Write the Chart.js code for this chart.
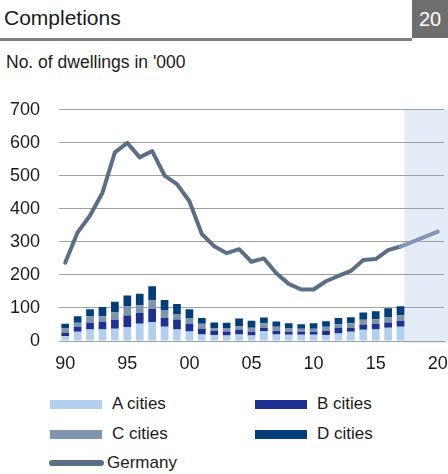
<!DOCTYPE html>
<html>
<head>
<meta charset="utf-8">
<script src="https://cdn.jsdelivr.net/npm/chart.js@4.4.1/dist/chart.umd.min.js"></script>
<style>
  body{margin:0;width:448px;height:474px;background:#fff;font-family:"Liberation Sans",Arial,sans-serif;color:#1a1a1a;position:relative;overflow:hidden}
  #title{position:absolute;left:4px;top:6px;font-size:21px}
  #rule{position:absolute;left:0;top:38px;width:412px;height:3px;background:#808080}
  #num{position:absolute;left:412px;top:0;width:36px;height:38px;background:#6e6e6e;color:#fff;font-size:20px;line-height:38px;text-align:center}
  #sub{position:absolute;left:6px;top:52px;font-size:17.5px}
  #wrap{position:absolute;left:0;top:80px;width:448px;height:300px}
  #legend{position:absolute;left:0;top:392px;width:448px;font-size:17px}
  .item{position:absolute;height:24px;line-height:24px;white-space:nowrap}
  .sw{position:absolute;left:0;top:8px;width:52px;height:9px}
  .ln{position:absolute;left:0;top:9px;width:55px;height:6px;border-radius:3px}
</style>
</head>
<body>
<div id="title">Completions</div>
<div id="rule"></div>
<div id="num">20</div>
<div id="sub">No. of dwellings in '000</div>
<div id="wrap"><canvas id="myChart" width="448" height="300"></canvas></div>
<div id="legend"></div>
<script>
const years=[];
for(let y=1990;y<=2020;y++) years.push(y);

const aCities=[15,28,35,35,37,42,52,57,43,35,29,20,18,17,20,17,30,20,19,19,19,18,23,28,34,35,40,43,null,null,null];
const bCities=[10,15,20,23,27,35,33,40,27,30,23,17,12,12,14,11,10,10,9,9,9,12,17,12,16,17,16,18,null,null,null];
const cCities=[13,12,20,17,22,29,23,26,24,17,18,15,9,10,11,12,14,13,10,9,9,13,11,14,14,14,17,17,null,null,null];
const dCities=[14,20,21,28,33,32,35,43,30,30,26,18,17,16,23,21,17,16,16,14,17,17,19,18,22,24,26,27,null,null,null];
const germany=[237,329,380,449,571,600,556,575,501,475,423,324,287,266,278,240,250,205,173,156,156,181,197,212,245,248,275,286,301,316,331];

const colors={a:'#b3cfee',b:'#1e3192',c:'#7f95ab',d:'#023f7a',g:'#5a6e85',gForecast:'#7f97b2'};

// light blue band behind the forecast years
const forecastShade={
  id:'forecastShade',
  beforeDraw(chart){
    const x=chart.scales.x, a=chart.chartArea, c=chart.ctx;
    const left=x.getPixelForValue(27)+x.width/years.length*0.31;
    c.save();
    c.fillStyle='#e3ecf7';
    c.fillRect(left,a.top,chart.width-left,a.bottom-a.top+2);
    c.restore();
  }
};

function barSet(label,data,color){
  return {type:'bar',label:label,data:data,backgroundColor:color,stack:'cities',
    barPercentage:0.62,categoryPercentage:1,order:2};
}

function loadChart(){
  const ctx=document.getElementById('myChart').getContext('2d');
  new Chart(ctx,{
    data:{
      labels:years,
      datasets:[
        barSet('A cities',aCities,colors.a),
        barSet('B cities',bCities,colors.b),
        barSet('C cities',cCities,colors.c),
        barSet('D cities',dCities,colors.d),
        {type:'line',label:'Germany',data:germany,stack:'germany',borderColor:colors.g,borderWidth:4,
          pointRadius:0,tension:0,order:1,borderCapStyle:'round',borderJoinStyle:'round',
          segment:{borderColor:s=>s.p0DataIndex>=27?colors.gForecast:colors.g}}
      ]
    },
    options:{
      responsive:false,animation:false,
      layout:{padding:{top:24,right:4,bottom:0,left:0}},
      plugins:{legend:{display:false},tooltip:{enabled:false}},
      scales:{
        x:{stacked:true,grid:{display:false},border:{color:'#a0a0a0',width:1},
          ticks:{autoSkip:false,maxRotation:0,padding:4,color:'#1a1a1a',
            font:{family:'Liberation Sans',size:18},
            callback:(v,i)=>years[i]%5===0?String(years[i]).slice(2):''},
          afterFit:s=>{s.height=39;s.paddingRight=0;s.paddingLeft=0;}},
        y:{stacked:true,min:0,max:700,
          grid:{color:'#a0a0a0',drawTicks:false},border:{display:false},
          ticks:{stepSize:100,padding:19,color:'#1a1a1a',font:{family:'Liberation Sans',size:18}},
          afterFit:s=>{s.width=59;}}
      }
    },
    plugins:[forecastShade]
  });
}

function buildLegend(){
  const lg=document.getElementById('legend');
  const items=[
    {label:'A cities',color:colors.a,x:50,y:0},
    {label:'B cities',color:colors.b,x:255,y:0},
    {label:'C cities',color:colors.c,x:50,y:30},
    {label:'D cities',color:colors.d,x:255,y:30}
  ];
  items.forEach(it=>{
    const d=document.createElement('div');
    d.className='item';d.style.left=it.x+'px';d.style.top=it.y+'px';
    d.innerHTML='<span class="sw" style="background:'+it.color+'"></span><span style="margin-left:62px">'+it.label+'</span>';
    lg.appendChild(d);
  });
  const g=document.createElement('div');
  g.className='item';g.style.left='49px';g.style.top='59px';
  g.innerHTML='<span class="ln" style="background:'+colors.g+'"></span><span style="margin-left:58px">Germany</span>';
  lg.appendChild(g);
}

window.addEventListener('load',()=>{
  buildLegend();
  loadChart();
});
</script>
</body>
</html>
